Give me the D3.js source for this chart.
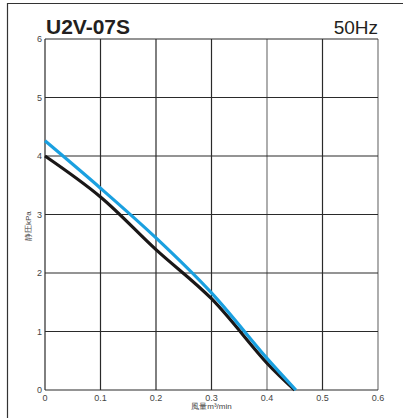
<!DOCTYPE html>
<html><head><meta charset="utf-8">
<script src="https://cdn.jsdelivr.net/npm/d3@7"></script>
<style>body{margin:0;background:#fff}svg{display:block}</style>
</head><body>
<svg id="c" width="403" height="418"></svg>
<script>
const title = "U2V-07S";
const freq = "50Hz";
const xTicks = [0, 0.1, 0.2, 0.3, 0.4, 0.5, 0.6];
const yTicks = [0, 1, 2, 3, 4, 5, 6];
const flowBlack = [0, 0.1, 0.2, 0.3, 0.4, 0.45];
const pressBlack = [4.0, 3.3, 2.4, 1.56, 0.46, 0];
const flowBlue = [0, 0.1, 0.2, 0.3, 0.4, 0.452];
const pressBlue = [4.26, 3.45, 2.6, 1.66, 0.54, 0];

const svg = d3.select("#c");
const x = d3.scaleLinear().domain([0, 0.6]).range([45, 378]);
const y = d3.scaleLinear().domain([0, 6]).range([390, 39]);
const font = "'Liberation Sans Narrow','Liberation Sans',Arial,sans-serif";

// outer frame (top & left)
svg.append("path").attr("d", "M7.5,418 V3.5 H403").attr("fill", "none").attr("stroke", "#333").attr("stroke-width", 1.2);

// grid
svg.append("g").selectAll("line").data(xTicks).join("line")
  .attr("x1", d => x(d)).attr("x2", d => x(d)).attr("y1", y(0)).attr("y2", y(6))
  .attr("stroke", (d,i) => (i===4||i===6) ? "#777" : "#2a2a2a").attr("stroke-width", 1.2);
svg.append("g").selectAll("line").data(yTicks).join("line")
  .attr("x1", x(0)).attr("x2", x(0.6)).attr("y1", d => y(d)).attr("y2", d => y(d))
  .attr("stroke", "#2a2a2a").attr("stroke-width", 1.2);

// tick labels
svg.append("g").selectAll("text").data(yTicks).join("text")
  .attr("x", x(0) - 3).attr("y", d => y(d) + 3).attr("text-anchor", "end")
  .attr("font-family", font).attr("font-size", 9).attr("fill", "#444").text(d => d);
svg.append("g").selectAll("text").data(xTicks).join("text")
  .attr("x", d => x(d)).attr("y", y(0) + 11).attr("text-anchor", "middle")
  .attr("font-family", font).attr("font-size", 9).attr("fill", "#444").text(d => d);

// axis titles
svg.append("text").attr("x", x(0.3)).attr("y", 409).attr("text-anchor", "middle")
  .attr("font-family", font).attr("font-size", 8).attr("fill", "#444").text("風量m³/min");
svg.append("text").attr("transform", `translate(31,${y(2.8)}) rotate(-90)`).attr("text-anchor", "middle")
  .attr("font-family", font).attr("font-size", 8).attr("fill", "#444").text("静圧kPa");

// title
svg.append("text").attr("x", 46).attr("y", 34).attr("font-family", "'Liberation Sans',Arial,sans-serif")
  .attr("font-weight", "bold").attr("font-size", 21).attr("fill", "#231f20").text(title);
svg.append("text").attr("x", 378).attr("y", 34).attr("text-anchor", "end").attr("font-family", font)
  .attr("font-size", 19).attr("fill", "#231f20").text(freq);

// curves
const line = d3.line().x(d => x(d[0])).y(d => y(d[1])).curve(d3.curveCatmullRom.alpha(0.5));
svg.append("path").datum(d3.zip(flowBlack, pressBlack)).attr("d", line)
  .attr("fill", "none").attr("stroke", "#1a1717").attr("stroke-width", 3.2);
svg.append("path").datum(d3.zip(flowBlue, pressBlue)).attr("d", line)
  .attr("fill", "none").attr("stroke", "#1aa0e0").attr("stroke-width", 3.2);
</script>
</body></html>
